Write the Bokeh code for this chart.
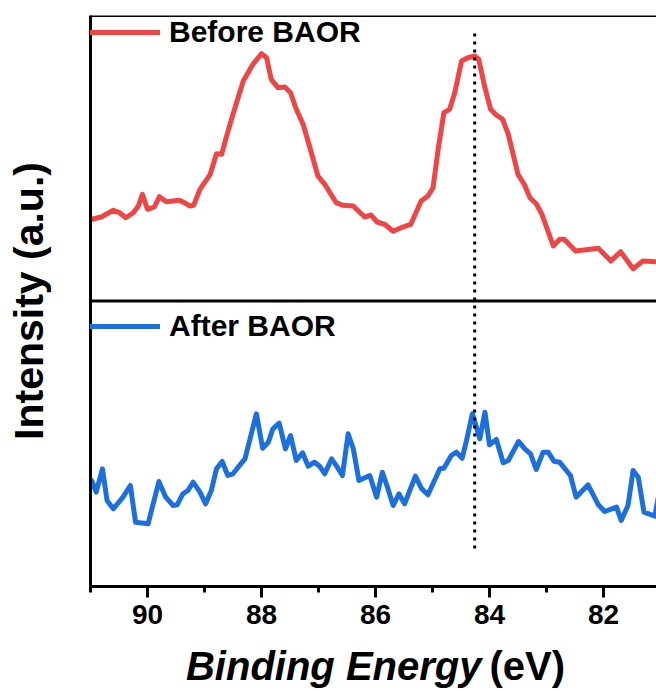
from bokeh.plotting import figure
from bokeh.layouts import column
from bokeh.models import (Range1d, Span, Legend, LegendItem,
                          SingleIntervalTicker, FixedTicker)
from bokeh.core.properties import value
from bokeh.embed import file_html
from bokeh.resources import INLINE

# ---------------- data ----------------
# Binding energy (eV) and intensity (a.u.) of the "Before BAOR" spectrum
red_be = [90.98, 90.81, 90.60, 90.49, 90.38, 90.25, 90.16, 90.09, 90.00, 89.88,
          89.79, 89.67, 89.44, 89.35, 89.26, 89.19, 89.08, 88.90, 88.79, 88.70,
          88.62, 88.50, 88.32, 88.15, 88.00, 87.91, 87.83, 87.71, 87.59, 87.49,
          87.39, 87.27, 87.15, 87.01, 86.89, 86.69, 86.57, 86.39, 86.19, 86.08,
          85.97, 85.84, 85.69, 85.55, 85.38, 85.20, 85.08, 84.99, 84.90, 84.80,
          84.70, 84.61, 84.49, 84.38, 84.26, 84.19, 84.08, 83.98, 83.88, 83.77,
          83.67, 83.50, 83.39, 83.29, 83.18, 83.08, 82.88, 82.77, 82.69, 82.49,
          82.09, 81.87, 81.70, 81.48, 81.31, 81.06]
red_int = [81.7, 84.0, 90.7, 88.3, 83.3, 88.3, 95.0, 106.7, 91.7, 94.0,
           104.3, 99.3, 100.7, 98.3, 95.0, 95.7, 111.7, 126.7, 147.3, 146.7,
           163.3, 186.7, 220.0, 236.7, 247.3, 243.3, 221.7, 213.3, 214.0, 208.3,
           191.7, 176.7, 153.3, 125.0, 116.7, 98.3, 95.7, 95.0, 84.0, 86.0,
           79.0, 76.7, 69.7, 73.3, 76.7, 100.0, 105.0, 113.3, 152.0, 188.3,
           191.7, 208.3, 240.0, 243.3, 245.0, 241.7, 213.3, 191.7, 186.0, 181.7,
           166.7, 126.7, 116.7, 103.3, 97.3, 86.7, 55.0, 61.7, 61.7, 50.0,
           52.7, 40.0, 49.3, 32.3, 40.0, 39.3]

# Binding energy (eV) and intensity (a.u.) of the "After BAOR" spectrum
blue_be = [90.98, 90.90, 90.79, 90.71, 90.60, 90.43, 90.30, 90.21, 89.99, 89.80,
           89.68, 89.55, 89.48, 89.38, 89.29, 89.20, 89.08, 88.98, 88.88, 88.79,
           88.69, 88.59, 88.50, 88.41, 88.29, 88.09, 87.98, 87.88, 87.80, 87.69,
           87.58, 87.49, 87.39, 87.28, 87.18, 87.07, 86.98, 86.89, 86.77, 86.67,
           86.58, 86.48, 86.39, 86.29, 86.10, 85.98, 85.88, 85.79, 85.69, 85.59,
           85.49, 85.30, 85.19, 85.08, 84.87, 84.80, 84.67, 84.58, 84.48, 84.41,
           84.30, 84.17, 84.08, 84.00, 83.88, 83.76, 83.67, 83.49, 83.38, 83.28,
           83.18, 83.06, 82.97, 82.87, 82.77, 82.58, 82.48, 82.27, 82.09, 81.98,
           81.77, 81.69, 81.57, 81.48, 81.39, 81.29, 81.10, 81.00]
blue_int = [106.0, 94.3, 117.7, 86.0, 77.7, 89.3, 101.0, 64.3, 62.7, 105.0,
            89.3, 81.0, 81.7, 92.7, 96.0, 104.3, 94.3, 82.7, 96.0, 117.7,
            125.0, 111.0, 112.7, 119.3, 127.7, 172.7, 138.3, 144.3, 157.7, 163.3,
            137.7, 151.0, 126.0, 133.7, 120.3, 124.3, 120.3, 112.7, 127.7, 119.3,
            111.0, 152.7, 137.7, 106.0, 111.0, 89.3, 114.3, 99.3, 81.0, 92.7,
            82.7, 110.3, 97.7, 91.7, 117.7, 118.3, 131.0, 134.3, 128.3, 144.3,
            172.7, 147.7, 174.3, 141.7, 147.0, 123.7, 126.0, 145.0, 137.7, 132.7,
            117.0, 134.3, 134.3, 125.3, 124.3, 111.0, 89.3, 101.7, 81.7, 75.0,
            79.3, 66.0, 81.0, 116.0, 109.3, 74.3, 70.3, 101.0]

series_labels = ["Before BAOR", "After BAOR"]
x_title_parts = ["Binding Energy", "(eV)"]
y_title = "Intensity (a.u.)"
peak_position = 84.26          # eV, dotted reference line
x_ticks_interval = 2

# ---------------- style ----------------
FONT = "Liberation Sans"
RED = "#F04545"
BLUE = "#1C6FDF"
PANEL = 285.5                  # height of one stacked panel (a.u.)
X_START, X_END = 91, 81.07
TITLE_H = 58
LW = 5

p = figure(width=656, height=691 - TITLE_H, output_backend="svg", toolbar_location=None,
           x_range=Range1d(X_START, X_END), y_range=Range1d(0, 2 * PANEL),
           min_border_left=90, min_border_right=0, min_border_top=15,
           min_border_bottom=691 - TITLE_H - 586)
p.outline_line_color = None
p.grid.visible = False
p.background_fill_color = "white"
p.border_fill_color = "white"

# x axis
xa = p.xaxis[0]
xa.ticker = SingleIntervalTicker(interval=x_ticks_interval, num_minor_ticks=2)
xa.axis_line_width = 3
xa.major_tick_line_width = 3
xa.minor_tick_line_width = 3
xa.major_tick_in = 0
xa.major_tick_out = 11
xa.minor_tick_in = 0
xa.minor_tick_out = 6
xa.major_label_standoff = 7
xa.major_label_text_font = FONT
xa.major_label_text_font_style = "bold"
xa.major_label_text_font_size = "28px"
xa.major_label_text_color = "black"

# y axis (no ticks)
ya = p.yaxis[0]
ya.ticker = FixedTicker(ticks=[], minor_ticks=[])
ya.axis_line_width = 3
ya.axis_label = y_title
ya.axis_label_text_font = FONT
ya.axis_label_text_font_style = "bold"
ya.axis_label_text_font_size = "41px"
ya.axis_label_text_color = "black"
ya.axis_label_standoff = 39

# panel frame lines
p.add_layout(Span(location=2 * PANEL, dimension="width", line_color="black", line_width=3))
p.add_layout(Span(location=PANEL, dimension="width", line_color="black", line_width=3))

# spectra
r_red = p.line(red_be, [v + PANEL for v in red_int], line_color=RED,
               line_width=LW, line_join="round", line_cap="round")
r_blue = p.line(blue_be, blue_int, line_color=BLUE,
                line_width=LW, line_join="round", line_cap="round")

# dotted reference line
p.line([peak_position, peak_position], [38, 555], line_color="black",
       line_width=3, line_dash="3 5")

# legends
def make_legend(label, rend, loc):
    return Legend(items=[LegendItem(label=label, renderers=[rend])], location=loc,
                  border_line_color=None, background_fill_alpha=0,
                  padding=2, margin=0, glyph_width=70, glyph_height=20,
                  label_standoff=9, label_text_font=FONT,
                  label_text_font_style="bold", label_text_font_size="30px",
                  label_text_color="black")

p.add_layout(make_legend(series_labels[0], r_red, "top_left"))
p.add_layout(make_legend(series_labels[1], r_blue, (0, 243)))

# x-axis title strip (mixed bold-italic / bold text)
t = figure(width=656, height=TITLE_H, output_backend="svg", toolbar_location=None,
           x_range=Range1d(X_START, X_END), y_range=Range1d(0, TITLE_H),
           min_border_left=90, min_border_right=0, min_border_top=0,
           min_border_bottom=0)
t.axis.visible = False
t.grid.visible = False
t.outline_line_color = None
t.text(x=[84.14], y=[26], text=[x_title_parts[0]], text_align="right",
       text_baseline="alphabetic", text_font=value(FONT),
       text_font_style="bold italic", text_font_size="40px", text_color="black")
t.text(x=[84.0], y=[26], text=[x_title_parts[1]], text_align="left",
       text_baseline="alphabetic", text_font=value(FONT),
       text_font_style="bold", text_font_size="40px", text_color="black")

layout = column(p, t, spacing=0)
open("out.html", "w").write(file_html(layout, INLINE))
